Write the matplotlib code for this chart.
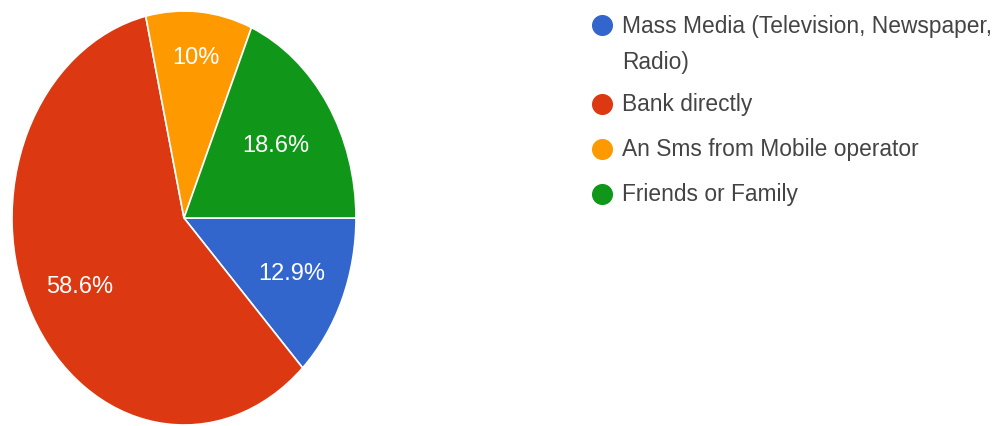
import matplotlib
matplotlib.use('Agg')
import matplotlib.pyplot as plt
import numpy as np

plt.rcParams['font.family'] = ['Liberation Sans', 'DejaVu Sans']

labels = ['Mass Media (Television, Newspaper,\nRadio)', 'Bank directly',
          'An Sms from Mobile operator', 'Friends or Family']
values = [12.9, 58.6, 10, 18.6]
colors = ['#3366cc', '#dc3912', '#ff9900', '#109618']
label_r = [0.68, 0.69, 0.78, 0.64]

fig = plt.figure(figsize=(9.98, 4.27), dpi=100)
ax = fig.add_axes([12/998, 1/427, 344/998, 414/427])

wedges, _ = ax.pie(values, colors=colors, startangle=0, counterclock=False,
                   wedgeprops=dict(edgecolor='white', linewidth=1.2))
ax.set_aspect('auto')
ax.set_xlim(-1, 1)
ax.set_ylim(-1, 1)
ax.axis('off')

for w, v, r in zip(wedges, values, label_r):
    ang = np.deg2rad((w.theta1 + w.theta2) / 2)
    ax.text(r*np.cos(ang), r*np.sin(ang), '%g%%' % v, color='white',
            fontsize=17, ha='center', va='center')

# legend on the right, pixel coordinates
lax = fig.add_axes([0, 0, 1, 1])
lax.set_xlim(0, 998)
lax.set_ylim(427, 0)
lax.axis('off')
rows = [26, 105, 150, 195]
for y, c, t in zip(rows, colors, labels):
    lax.scatter([602], [y], s=200, color=c, zorder=3)
    for i, line in enumerate(t.split('\n')):
        lax.text(622, y + i*37, line, fontsize=16.4, color='#444444', va='center')

fig.savefig('out.png', dpi=100)
